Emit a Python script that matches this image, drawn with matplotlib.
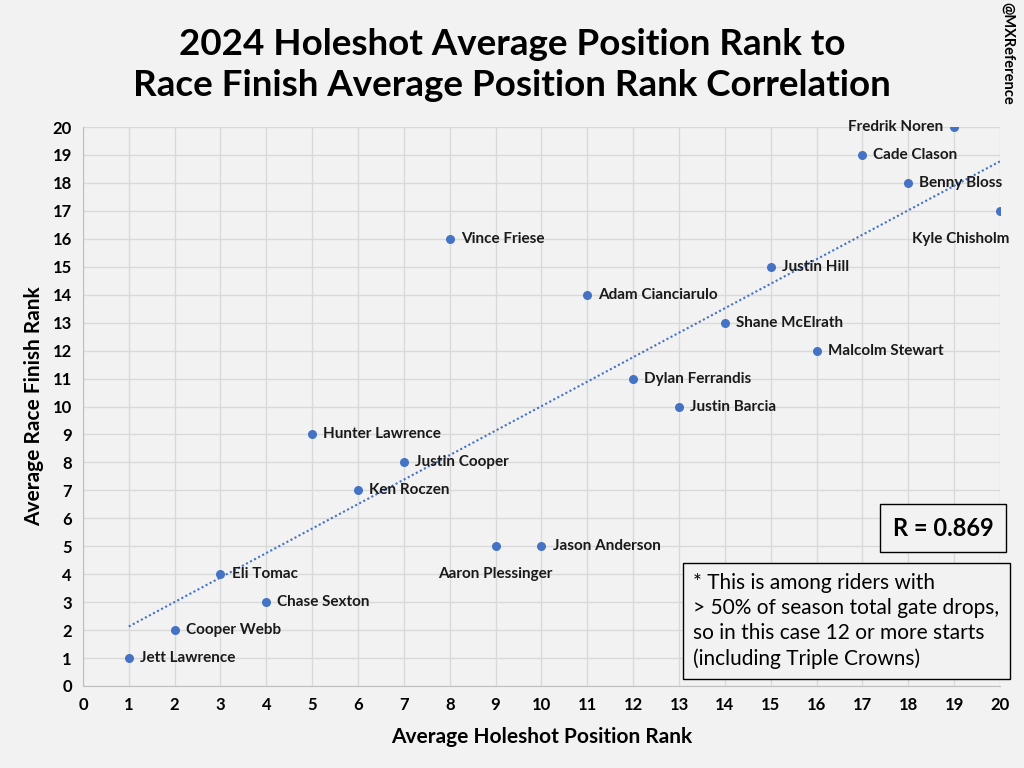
import numpy as np
import matplotlib
matplotlib.use("Agg")
import matplotlib.pyplot as plt

riders = ["Jett Lawrence", "Cooper Webb", "Eli Tomac", "Chase Sexton", "Hunter Lawrence",
          "Ken Roczen", "Justin Cooper", "Vince Friese", "Aaron Plessinger", "Jason Anderson",
          "Adam Cianciarulo", "Dylan Ferrandis", "Justin Barcia", "Shane McElrath", "Justin Hill",
          "Malcolm Stewart", "Cade Clason", "Benny Bloss", "Fredrik Noren", "Kyle Chisholm"]
holeshot_rank = [1, 2, 3, 4, 5, 6, 7, 8, 9, 10, 11, 12, 13, 14, 15, 16, 17, 18, 19, 20]
finish_rank = [1, 2, 4, 3, 9, 7, 8, 16, 5, 5, 14, 11, 10, 13, 15, 12, 19, 18, 20, 17]
x_ticks = list(range(0, 21))
y_ticks = list(range(0, 21))

BG = "#f2f2f2"
BLUE = "#4472C4"
plt.rcParams['font.family'] = ['Lato', 'DejaVu Sans']

fig = plt.figure(figsize=(10.24, 7.68), dpi=100, facecolor=BG)
ax = fig.add_axes([0.081, 0.1068, 0.8955, 0.7278], facecolor=BG)

ax.scatter(holeshot_rank, finish_rank, s=30, color=BLUE, zorder=3)

coef = np.polyfit(holeshot_rank, finish_rank, 1)
xs = np.array([min(holeshot_rank), max(holeshot_rank)])
ax.plot(xs, np.polyval(coef, xs), linestyle=(0, (1, 1.2)), color=BLUE, lw=1.5, zorder=2)

special = {
    "Fredrik Noren": dict(xytext=(-8, 0), ha="right", va="center"),
    "Kyle Chisholm": dict(xytext=(-28, -20), ha="center", va="center"),
    "Aaron Plessinger": dict(xytext=(0, -20), ha="center", va="center"),
}
for name, x, y in zip(riders, holeshot_rank, finish_rank):
    kw = special.get(name, dict(xytext=(8, 0), ha="left", va="center"))
    ax.annotate(name, (x, y), textcoords="offset points", fontsize=11, fontweight="bold",
                color="#1a1a1a", annotation_clip=False, **kw)

ax.set_xlim(0, 20)
ax.set_ylim(0, 20)
ax.set_xticks(x_ticks)
ax.set_yticks(y_ticks)
ax.grid(True, color="#d9d9d9", lw=1)
ax.set_axisbelow(True)
for s in ["top", "right"]:
    ax.spines[s].set_visible(False)
for s in ["left", "bottom"]:
    ax.spines[s].set_color("#bfbfbf")
ax.tick_params(length=0, labelsize=12, pad=8)
for lab in ax.get_xticklabels() + ax.get_yticklabels():
    lab.set_fontweight("bold")

ax.set_xlabel("Average Holeshot Position Rank", fontsize=15, fontweight="bold", labelpad=10)
ax.set_ylabel("Average Race Finish Rank", fontsize=15, fontweight="bold", labelpad=6)

fig.text(0.5, 0.915, "2024 Holeshot Average Position Rank to\nRace Finish Average Position Rank Correlation",
         ha="center", va="center", fontsize=26.5, fontweight="bold", linespacing=1.3)
fig.text(0.984, 0.93, "@MXReference", rotation=-90, ha="center", va="center",
         fontsize=10.5, fontweight="bold")

fig.text(0.921, 0.3125, "R = 0.869", ha="center", va="center", fontsize=17, fontweight="bold",
         bbox=dict(boxstyle="square,pad=0.55", fc=BG, ec="black", lw=1))
fig.text(0.677, 0.1915,
         "* This is among riders with\n> 50% of season total gate drops,\nso in this case 12 or more starts\n(including Triple Crowns)",
         ha="left", va="center", fontsize=15, linespacing=1.3,
         bbox=dict(boxstyle="square,pad=0.5", fc=BG, ec="black", lw=1))

fig.savefig("out.png", dpi=100, facecolor=BG)
